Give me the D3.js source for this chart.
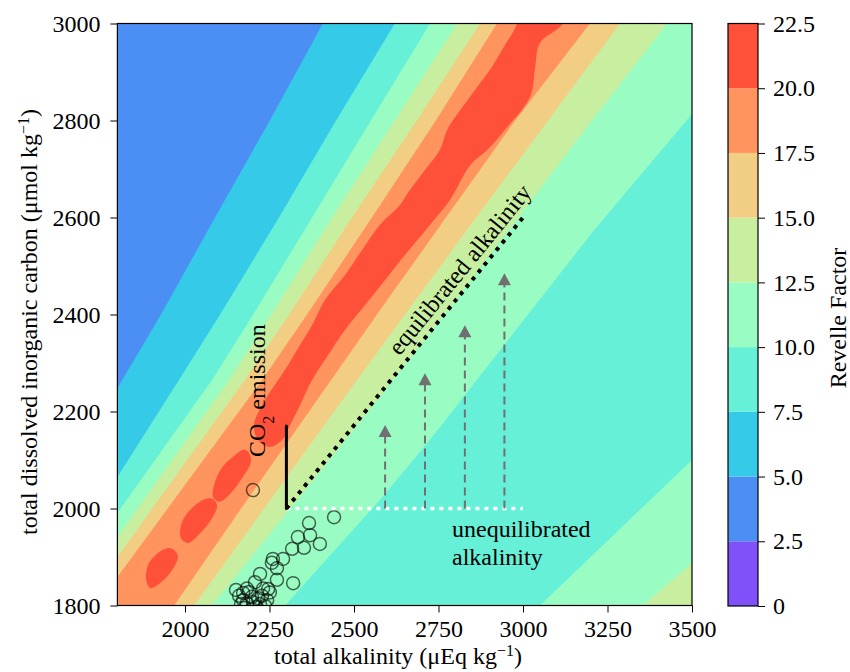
<!DOCTYPE html>
<html>
<head>
<meta charset="utf-8">
<script src="https://cdn.jsdelivr.net/npm/d3@7"></script>
<style>
  body { margin: 0; background: #fff; }
  text { font-family: "Liberation Serif", "DejaVu Serif", serif; }
</style>
</head>
<body>
<svg id="chart" width="850" height="672"></svg>
<script>
// contour levels + colours (rainbow, 9 bands)
var levels = [0, 2.5, 5, 7.5, 10, 12.5, 15, 17.5, 20, 22.5];
var bandColors = ["#8050f8", "#4b8ff5", "#35cbe8", "#66f0d8", "#99fcc2", "#c8eea0", "#f2ce84", "#ff945e", "#ff5039"];

// contour lines, [TA, DIC]
var c5Upper = [[1740,2170],[1800,2248],[1929,2400],[2089,2600],[2251,2800],[2408,3000],[2455,3060]];
var c75Upper = [[1740,1999],[1800,2065],[1982,2265],[2104,2400],[2278,2600],[2447,2800],[2621,3000],[2670,3060]];
var c10Upper = [[1740,1930],[1800,1991],[2080,2265],[2202,2400],[2376,2600],[2550,2800],[2725,3000],[2775,3060]];
var c125Upper = [[1740,1880],[1800,1941],[2130,2265],[2255,2400],[2435,2600],[2621,2800],[2805,3000],[2860,3060]];
var c15Upper = [[1740,1840],[1800,1900],[2177,2265],[2308,2400],[2494,2600],[2686,2800],[2873,3000],[2925,3060]];
var c175Upper = [[1740,1800],[1800,1859],[2228,2265],[2361,2400],[2553,2600],[2742,2800],[2923,3000],[2975,3060]];
var c175Lower = [[1909,1740],[1968,1800],[2166,2000],[2367,2200],[2568,2400],[2772,2600],[2977,2800],[3198,3000],[3265,3060]];
var c15Lower = [[1970,1740],[2027,1800],[2234,2000],[2441,2200],[2651,2400],[2861,2600],[3074,2800],[3287,3000],[3355,3060]];
var c125Lower = [[2010,1740],[2080,1800],[2311,2000],[2542,2200],[2767,2400],[2986,2600],[3204,2800],[3426,3000],[3500,3065]];
var c10Lower = [[2240,1740],[2296,1800],[2577,2018],[2725,2142],[3207,2571],[3503,2816],[3560,2865]];
var c10Corner = [[2960,1740],[3050,1800],[3500,2100],[3560,2140]];
var c125Corner = [[3256,1740],[3355,1800],[3500,1888],[3560,1924]];

// red (>20) band and the islands below it
var redBand = [[3154,3069],[3118,3000],[3050,2960],[3036,2910],[3021,2849],[2947,2781],[2894,2739],[2844,2708],
  [2784,2636],[2725,2585],[2651,2523],[2592,2471],[2532,2419],[2473,2368],[2423,2316],[2376,2265],[2340,2213],
  [2311,2172],[2287,2141],[2251,2127],[2216,2141],[2204,2172],[2228,2213],[2266,2255],[2305,2296],[2340,2337],
  [2376,2378],[2414,2430],[2473,2481],[2524,2533],[2577,2585],[2636,2626],[2666,2657],[2710,2698],[2754,2739],
  [2775,2780],[2814,2821],[2858,2863],[2902,2904],[2947,2956],[2982,3000],[2991,3069]];
var redIslandA = [[2187,2117],[2195,2096],[2169,2063],[2133,2030],[2101,2014],[2083,2024],[2089,2055],[2109,2084],[2145,2108],[2172,2121]];
var redIslandB = [[2080,2020],[2095,2007],[2080,1980],[2045,1949],[2009,1929],[1988,1939],[1991,1972],[2021,2001],[2054,2018]];
var redIslandC = [[1962,1917],[1979,1902],[1962,1873],[1926,1846],[1897,1836],[1885,1853],[1891,1884],[1920,1908],[1947,1918]];

// observations
var obsTA = [2201,2441,2367,2370,2334,2399,2352,2317,2290,2260,2257,2272,2320,2222,2272,2207,2183,2231,2251,2172,
  2198,2216,2172,2243,2201,2183,2222,2177,2237,2160,2190,2228,2210,2166,2246,2151];
var obsDIC = [2038,1982,1970,1945,1941,1927,1919,1917,1896,1896,1888,1877,1846,1865,1853,1848,1835,1835,1827,1826,
  1818,1815,1811,1811,1807,1805,1803,1795,1799,1820,1828,1820,1797,1803,1834,1832];

// annotation lines
var arrowTA = [2592, 2710, 2828, 2945];
var arrowTip = [2172, 2279, 2378, 2485];

var xTicks = [2000, 2250, 2500, 2750, 3000, 3250, 3500];
var yTicks = [1800, 2000, 2200, 2400, 2600, 2800, 3000];

var svg = d3.select("#chart");

var x = d3.scaleLinear().domain([1800, 3500]).range([117.4, 692]);
var y = d3.scaleLinear().domain([1800, 3000]).range([605.5, 23.5]);

svg.append("clipPath").attr("id", "plotclip")
  .append("rect")
  .attr("x", x(1800)).attr("y", y(3000))
  .attr("width", x(3500) - x(1800)).attr("height", y(1800) - y(3000));

var plot = svg.append("g").attr("clip-path", "url(#plotclip)");
var line = d3.line().x(d => x(d[0])).y(d => y(d[1]));

// fill everything with the 2.5-5 band, then paint each region below/right of a contour
plot.append("rect")
  .attr("x", x(1800)).attr("y", y(3000))
  .attr("width", x(3500) - x(1800)).attr("height", y(1800) - y(3000))
  .attr("fill", bandColors[1]);

function lowerRight(pts) {
  var f = pts[0], l = pts[pts.length - 1];
  return pts.concat([[5000, l[1]], [5000, 1000], [f[0], 1000]]);
}

var layers = [
  [c5Upper, 2], [c75Upper, 3], [c10Upper, 4], [c125Upper, 5], [c15Upper, 6], [c175Upper, 7],
  [c175Lower, 6], [c15Lower, 5], [c125Lower, 4], [c10Lower, 3], [c10Corner, 4], [c125Corner, 5]
];
layers.forEach(function(l) {
  plot.append("path")
    .attr("d", line(lowerRight(l[0])) + "Z")
    .attr("fill", bandColors[l[1]]);
});

var smooth = d3.line().x(d => x(d[0])).y(d => y(d[1])).curve(d3.curveCatmullRomClosed.alpha(0.5));
[redBand, redIslandA, redIslandB, redIslandC].forEach(function(p) {
  plot.append("path").attr("d", smooth(p)).attr("fill", bandColors[8]);
});

// observations
plot.selectAll("circle.obs")
  .data(obsTA)
  .enter()
  .append("circle")
  .attr("class", "obs")
  .attr("cx", d => x(d))
  .attr("cy", (d, i) => y(obsDIC[i]))
  .attr("r", 6.5)
  .attr("fill", "none")
  .attr("stroke", "#000")
  .attr("stroke-opacity", 0.6)
  .attr("stroke-width", 1.5);

// unequilibrated alkalinity (white dotted) and the grey arrows
svg.append("line")
  .attr("x1", x(2300)).attr("y1", y(2000)).attr("x2", x(3000)).attr("y2", y(2000))
  .attr("stroke", "#fff").attr("stroke-width", 3.5).attr("stroke-dasharray", "4,5");

arrowTA.forEach(function(ta, i) {
  var tipY = y(arrowTip[i]);
  svg.append("line")
    .attr("x1", x(ta)).attr("y1", y(2000)).attr("x2", x(ta)).attr("y2", tipY + 10)
    .attr("stroke", "#707070").attr("stroke-width", 2).attr("stroke-dasharray", "8,5");
  svg.append("path")
    .attr("d", "M" + x(ta) + "," + tipY + "l6.5,12h-13z")
    .attr("fill", "#707070");
});

// equilibrated alkalinity (black dotted)
svg.append("line")
  .attr("x1", x(2300)).attr("y1", y(2000)).attr("x2", x(3000)).attr("y2", y(2600))
  .attr("stroke", "#000").attr("stroke-width", 4).attr("stroke-dasharray", "4,5.5");

// CO2 emission
svg.append("line")
  .attr("x1", x(2300)).attr("y1", y(2000)).attr("x2", x(2300)).attr("y2", y(2170))
  .attr("stroke", "#000").attr("stroke-width", 3).attr("stroke-linecap", "round");

var co2 = svg.append("text")
  .attr("transform", "translate(265,457) rotate(-90)")
  .attr("font-size", 24);
co2.append("tspan").text("CO");
co2.append("tspan").attr("baseline-shift", "sub").attr("font-size", 16).text("2");
co2.append("tspan").text(" emission");

var ang = Math.atan2(y(2000) - y(2600), x(3000) - x(2300)) * 180 / Math.PI;
svg.append("text")
  .attr("transform", "translate(" + (x(2300) + 113) + "," + (y(2000) - 152) + ") rotate(" + (-ang) + ")")
  .attr("font-size", 24)
  .text("equilibrated alkalinity");

svg.append("text").attr("x", 452).attr("y", 537).attr("font-size", 24).text("unequilibrated");
svg.append("text").attr("x", 452).attr("y", 565).attr("font-size", 24).text("alkalinity");

// axes
var xAxis = svg.append("g")
  .attr("transform", "translate(0," + y(1800) + ")")
  .call(d3.axisBottom(x).tickValues(xTicks).tickSize(7).tickPadding(7).tickSizeOuter(0).tickFormat(d3.format("d")));
var yAxis = svg.append("g")
  .attr("transform", "translate(" + x(1800) + ",0)")
  .call(d3.axisLeft(y).tickValues(yTicks).tickSize(7).tickPadding(10).tickSizeOuter(0).tickFormat(d3.format("d")));
[xAxis, yAxis].forEach(function(g) {
  g.select(".domain").remove();
  g.selectAll("text").attr("font-size", 24).attr("fill", "#000")
    .style("font-family", "'Liberation Serif', serif");
  g.selectAll("line").attr("stroke", "#000");
});

svg.append("rect")
  .attr("x", x(1800)).attr("y", y(3000))
  .attr("width", x(3500) - x(1800)).attr("height", y(1800) - y(3000))
  .attr("fill", "none").attr("stroke", "#000").attr("stroke-width", 1.2);

var xl = svg.append("text")
  .attr("x", 398).attr("y", 664).attr("text-anchor", "middle").attr("font-size", 24);
xl.append("tspan").text("total alkalinity (μEq kg");
xl.append("tspan").attr("baseline-shift", "super").attr("font-size", 16).text("−1");
xl.append("tspan").text(")");

var yl = svg.append("text")
  .attr("transform", "translate(37,322) rotate(-90)")
  .attr("text-anchor", "middle").attr("font-size", 24);
yl.append("tspan").text("total dissolved inorganic carbon (μmol kg");
yl.append("tspan").attr("baseline-shift", "super").attr("font-size", 16).text("−1");
yl.append("tspan").text(")");

// colour bar
var cb = d3.scaleLinear().domain([0, 22.5]).range([606, 23.5]);
var cbg = svg.append("g");
cbg.selectAll("rect")
  .data(d3.range(9))
  .enter()
  .append("rect")
  .attr("x", 728).attr("width", 30)
  .attr("y", d => cb(levels[d + 1]))
  .attr("height", d => cb(levels[d]) - cb(levels[d + 1]))
  .attr("fill", d => bandColors[d]);
cbg.append("rect")
  .attr("x", 728).attr("y", cb(22.5)).attr("width", 30).attr("height", cb(0) - cb(22.5))
  .attr("fill", "none").attr("stroke", "#000").attr("stroke-width", 1.2);

var cbAxis = svg.append("g")
  .attr("transform", "translate(758,0)")
  .call(d3.axisRight(cb).tickValues(levels).tickSize(7).tickPadding(8).tickSizeOuter(0)
    .tickFormat(d => d === 0 ? "0" : d.toFixed(1)));
cbAxis.select(".domain").remove();
cbAxis.selectAll("text").attr("font-size", 24).attr("fill", "#000")
  .style("font-family", "'Liberation Serif', serif");
cbAxis.selectAll("line").attr("stroke", "#000");

svg.append("text")
  .attr("transform", "translate(846,318) rotate(-90)")
  .attr("text-anchor", "middle").attr("font-size", 24)
  .text("Revelle Factor");
</script>
</body>
</html>
